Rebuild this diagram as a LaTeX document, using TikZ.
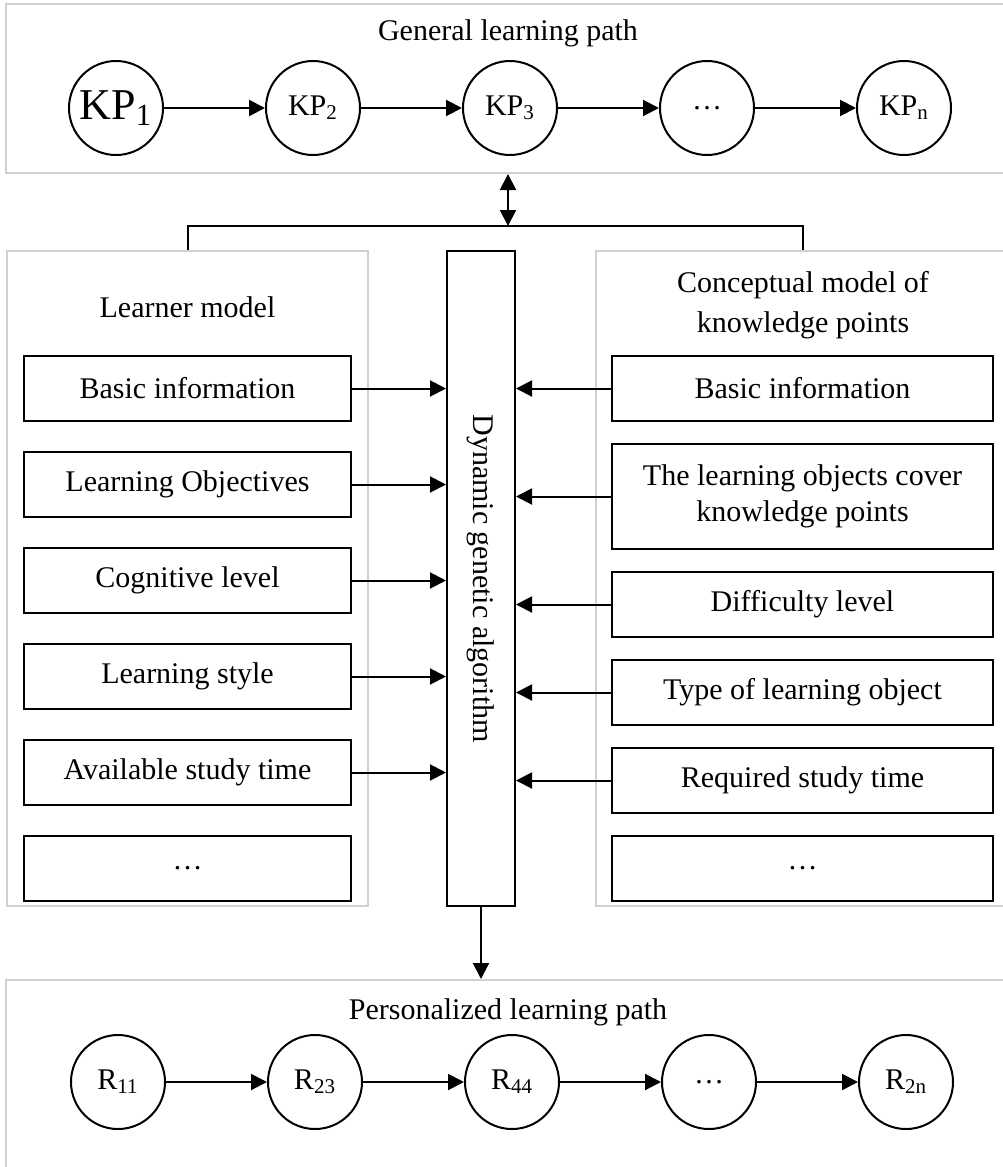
\documentclass[tikz,border=0pt]{standalone}
\usepackage{fontspec}
\setmainfont{Liberation Serif}
\usetikzlibrary{arrows.meta,positioning}

\begin{document}
\begin{tikzpicture}[x=0.5pt,y=-0.5pt,>={Triangle[length=8pt,width=8pt]},line width=1pt,
    font=\fontsize{15}{18}\selectfont,node distance=50.5pt,
    frame/.style={draw=black!18},
    kp/.style={circle,draw,minimum size=47pt,inner sep=0pt},
    item/.style={draw,minimum height=32.5pt,align=center},
    litem/.style={item,minimum width=163.5pt},
    ritem/.style={item,minimum width=190.5pt}]

            \useasboundingbox (0,0) rectangle (1002,1167);

            % frames
            \node[frame,minimum width=502pt,minimum height=84.5pt] (general) at (508,88.5) {};

            \node[frame,minimum width=180.5pt,minimum height=327.5pt] (learner) at (187.5,578.5) {};

            \node[frame,minimum width=207pt,minimum height=327.5pt] (concept) at (803,578.5) {};

            \node[frame,minimum width=502pt,minimum height=100pt] (personal) at (508,1080) {};

            % general learning path
            \node (gtitle) at (508,33) {General learning path};

            \node[kp,font=\fontsize{22}{24}\selectfont] (kp1) at (116,108) {KP\textsubscript{1}};

            \node[kp] (kp2) [right=of kp1] {KP\textsubscript{2}};

            \node[kp] (kp3) [right=of kp2] {KP\textsubscript{3}};

            \node[kp] (kp4) [right=of kp3] {\ldots};

            \node[kp] (kpn) [right=of kp4] {KP\textsubscript{n}};

            \foreach \from/\to in {kp1/kp2, kp2/kp3, kp3/kp4, kp4/kpn}
	   {
                \draw[->] (\from) -- (\to);
              }

            % learner model
            \node (lmtitle) at (187.5,307) {Learner model};

            \node[litem] (lm1) at (187.5,388.5) {Basic information};

            \node[litem] (lm2) [below=14.5pt of lm1] {Learning Objectives};

            \node[litem] (lm3) [below=14.5pt of lm2] {Cognitive level};

            \node[litem] (lm4) [below=14.5pt of lm3] {Learning style};

            \node[litem] (lm5) [below=14.5pt of lm4] {Available study time};

            \node[litem] (lm6) [below=14.5pt of lm5] {\ldots};

            % conceptual model
            \node[align=center,font=\fontsize{15}{20}\selectfont] (cmtitle) at (803,305) {Conceptual model of\\knowledge points};

            \node[ritem] (cm1) at (802.5,388.5) {Basic information};

            \node[ritem,minimum height=52.5pt] (cm2) [below=10.5pt of cm1] {The learning objects cover\\knowledge points};

            \node[ritem] (cm3) [below=10.5pt of cm2] {Difficulty level};

            \node[ritem] (cm4) [below=10.5pt of cm3] {Type of learning object};

            \node[ritem] (cm5) [below=10.5pt of cm4] {Required study time};

            \node[ritem] (cm6) [below=10.5pt of cm5] {\ldots};

            % algorithm
            \node[draw,minimum width=34pt,minimum height=327.5pt,inner sep=0pt] (dga) at (481,578.5) {\rotatebox{-90}{Dynamic genetic algorithm}};

            \foreach \n in {1,...,5}
	   {
                \draw[->] (lm\n) -- (lm\n -| dga.west);
                \draw[->] (cm\n) -- (cm\n -| dga.east);
              }

            \coordinate (bar) at (508,226);

            \draw (learner.north) |- (bar) -| (concept.north);

            \draw[<->] (general.south) -- (bar);

            \draw[->] (dga.south) -- (dga.south |- personal.north);

            % personalized learning path
            \node (ptitle) at (508,1012) {Personalized learning path};

            \node[kp] (r1) at (118,1082) {R\textsubscript{11}};

            \node[kp] (r2) [right=of r1] {R\textsubscript{23}};

            \node[kp] (r3) [right=of r2] {R\textsubscript{44}};

            \node[kp] (r4) [right=of r3] {\ldots};

            \node[kp] (rn) [right=of r4] {R\textsubscript{2n}};

            \foreach \from/\to in {r1/r2, r2/r3, r3/r4, r4/rn}
	   {
                \draw[->] (\from) -- (\to);
              }

        \end{tikzpicture}
\end{document}
